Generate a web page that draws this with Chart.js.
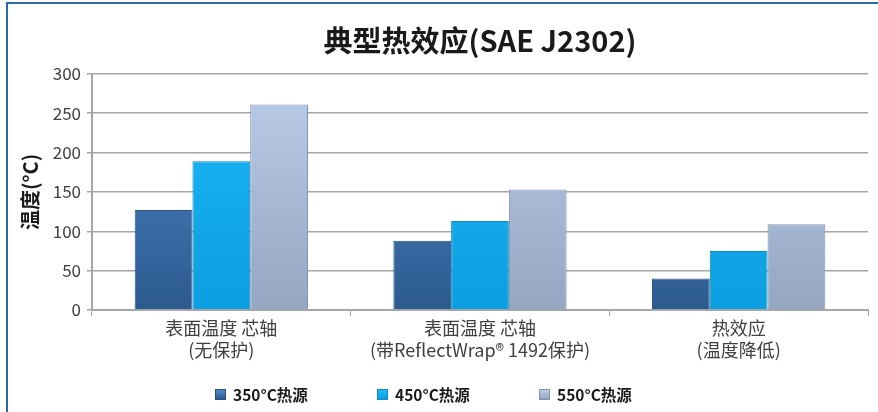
<!DOCTYPE html>
<html>
<head>
<meta charset="utf-8">
<script src="https://cdn.jsdelivr.net/npm/chart.js@4.4.1/dist/chart.umd.min.js"></script>
<style>
    html, body { margin: 0; padding: 0; background: #fff; }
    #wrap { position: relative; width: 878px; height: 412px; overflow: hidden; }
    #frame { position: absolute; left: 6px; top: 2px; width: 900px; height: 420px;
             border-left: 2px solid #2a6aa8; border-top: 2px solid #2a6aa8; }
    #chart { position: absolute; left: 0; top: 0; }
    #legend { position: absolute; left: 215px; top: 383px; display: flex;
              font: bold 15.5px "Noto Sans CJK SC", "Noto Sans", sans-serif; color: #1a1a1a; }
    #legend .item { width: 162px; display: flex; align-items: center; white-space: nowrap; }
    #legend .box { width: 11px; height: 11px; margin-right: 7px; box-sizing: border-box; border: 1px solid; }
</style>
</head>
<body>
<div id="wrap">
    <div id="frame"></div>
    <canvas id="chart" width="878" height="412"></canvas>
    <div id="legend"></div>
</div>
<script>
// Data
const categories = [
    ['表面温度 芯轴', '(无保护)'],
    ['表面温度 芯轴', '(带ReflectWrap® 1492保护)'],
    ['热效应', '(温度降低)']
];
const seriesNames = ['350°C热源', '450°C热源', '550°C热源'];
const heat350 = [127, 88, 40];
const heat450 = [189, 113, 75];
const heat550 = [261, 153, 109];
const yTicks = [0, 50, 100, 150, 200, 250, 300];

const FONT = '"Noto Sans CJK SC", "Noto Sans", sans-serif';

// top colour, bottom colour, border
const palette = [
    ['#5089c9', '#2c5a8f', '#2a5180'],
    ['#1fb8f6', '#0a9fe0', '#0b8cc6'],
    ['#bccdea', '#95a6c2', '#8393ad']
];

function barGradient(idx) {
    return function(ctx) {
        const area = ctx.chart.chartArea;
        if (!area) return palette[idx][1];
        const g = ctx.chart.ctx.createLinearGradient(0, area.top, 0, area.bottom);
        g.addColorStop(0, palette[idx][0]);
        g.addColorStop(1, palette[idx][1]);
        return g;
    };
}

const datasets = [heat350, heat450, heat550].map((values, i) => ({
    label: seriesNames[i],
    data: values,
    backgroundColor: barGradient(i),
    borderColor: palette[i][2],
    borderWidth: 1,
    categoryPercentage: 0.67,
    barPercentage: 1.0
}));

const chart = new Chart(document.getElementById('chart'), {
    type: 'bar',
    data: { labels: categories, datasets: datasets },
    options: {
        responsive: false,
        animation: false,
        layout: { padding: { left: 8, right: 10, top: 0, bottom: 6 } },
        plugins: {
            title: {
                display: true,
                fullSize: false,   // centre over the plot area
                text: '典型热效应(SAE J2302)',
                color: '#1a1a1a',
                font: { family: FONT, size: 29, weight: 'bold' },
                padding: { top: 24, bottom: 15 }
            },
            legend: { display: false },
            tooltip: { enabled: false }
        },
        scales: {
            x: {
                grid: {
                    display: true,
                    drawOnChartArea: false,
                    offset: true,
                    color: '#a6a6a6',
                    tickLength: 6
                },
                border: { color: '#a6a6a6', width: 2 },
                ticks: {
                    color: '#404040',
                    font: { family: FONT, size: 18, lineHeight: 1.22 },
                    padding: 1,
                    maxRotation: 0
                },
                afterFit: function(scale) { scale.height = 96; }
            },
            y: {
                min: 0,
                max: 300,
                afterBuildTicks: function(scale) {
                    scale.ticks = yTicks.map(v => ({ value: v }));
                },
                grid: {
                    color: '#a6a6a6',
                    lineWidth: 1.5,
                    tickLength: 5
                },
                border: { color: '#a6a6a6', width: 2 },
                ticks: {
                    color: '#404040',
                    font: { family: FONT, size: 17 },
                    padding: 6
                },
                title: {
                    display: true,
                    text: '温度(°C)',
                    color: '#1a1a1a',
                    font: { family: FONT, size: 20, weight: 'bold' },
                    padding: { top: 10, bottom: 0 }
                },
                afterFit: function(scale) { scale.width = 84; }
            }
        }
    }
});

// HTML legend built from the chart's datasets
const legendEl = document.getElementById('legend');
chart.data.datasets.forEach((ds, i) => {
    const item = document.createElement('div');
    item.className = 'item';
    const box = document.createElement('span');
    box.className = 'box';
    box.style.background = 'linear-gradient(' + palette[i][0] + ',' + palette[i][1] + ')';
    box.style.borderColor = palette[i][2];
    const label = document.createElement('span');
    label.textContent = ds.label;
    item.appendChild(box);
    item.appendChild(label);
    legendEl.appendChild(item);
});
</script>
</body>
</html>
